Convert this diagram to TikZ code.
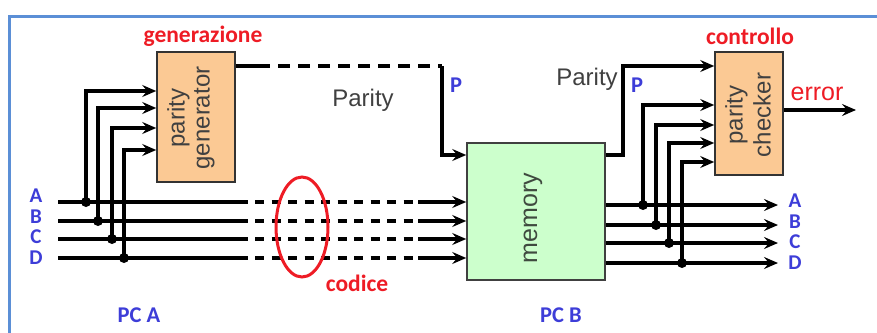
\documentclass[tikz,border=0pt]{standalone}
\usepackage{fontspec}
\setmainfont{Liberation Sans}
\newfontfamily\labfont{Carlito}
\usetikzlibrary{arrows.meta}
\definecolor{peach}{HTML}{FBC994}
\definecolor{mint}{HTML}{CCFFCC}
\definecolor{lblue}{HTML}{3D3DD8}
\definecolor{lred}{HTML}{EE1C25}
\definecolor{frameblue}{HTML}{5B8FD6}
\definecolor{txtgray}{HTML}{404040}
\definecolor{memgray}{HTML}{3F4A3F}
\tikzset{
  wire/.style={line width=3.1pt, black},
  arr/.style={wire, -{Stealth[length=14pt,width=12pt,inset=5pt]}},
  dash1/.style={wire, dash pattern=on 12pt off 8pt},
  dash2/.style={wire, dash pattern=on 9pt off 7.5pt},
  dot/.style={circle, fill=black, inner sep=0pt, minimum size=10pt},
  orbox/.style={draw=black!80, line width=1.6pt, fill=peach, inner sep=0pt},
  membox/.style={draw=black!75, line width=1.6pt, fill=mint, inner sep=0pt},
  boxtxt/.style={rotate=90, align=center, text=txtgray, font=\fontsize{24}{26}\selectfont},
  graytxt/.style={text=txtgray, font=\fontsize{24}{26}\selectfont},
  bluelab/.style={text=lblue, font=\labfont\bfseries\fontsize{22.5}{23}\selectfont, inner sep=0pt},
  letlab/.style={text=lblue, font=\labfont\bfseries\fontsize{21}{21}\selectfont, inner sep=0pt},
  redlab/.style={text=lred, font=\labfont\bfseries\fontsize{23.5}{24}\selectfont, inner sep=0pt},
}
\begin{document}
\begin{tikzpicture}[x=1pt,y=-1pt]
\useasboundingbox (0,0) rectangle (877,332);
% frame
\draw[frameblue, line width=3pt] (9,340) -- (9,16) -- (885,16);
% boxes
\node[orbox, minimum width=78pt, minimum height=130pt] (gen) at (196,117) {};
\node[boxtxt, font=\fontsize{24}{25}\selectfont] (gentxt) at (191,118) {parity\\generator};
\node[membox, minimum width=138pt, minimum height=137pt] (mem) at (536,211.5) {};
\node[boxtxt, text=memgray, font=\fontsize{25}{26}\selectfont] (memtxt) at (533,218) {memory};
\node[orbox, minimum width=68pt, minimum height=123pt] (chk) at (749,113.5) {};
\node[boxtxt, font=\fontsize{24}{28}\selectfont] (chktxt) at (748,115) {parity\\checker};
% labels
\node[redlab] (lgen) at (203,36) {generazione};
\node[redlab] (lchk) at (750,36) {controllo};
\node[text=lred, font=\fontsize{25}{26}\selectfont, inner sep=0pt] (lerr) at (817,94) {error};
\node[redlab] (lcod) at (357,283) {codice};
\node[bluelab] (pca) at (139,315) {PC A};
\node[bluelab] (pcb) at (561,315) {PC B};
\node[bluelab] (p1) at (456,85) {P};
\node[bluelab] (p2) at (637,85) {P};
\node[graytxt] (par1) at (363,100) {Parity};
\node[graytxt] (par2) at (587,79) {Parity};
% input labels
\node[letlab] (iA) at (36,196) {A};
\node[letlab] (iB) at (36,216.5) {B};
\node[letlab] (iC) at (36,237) {C};
\node[letlab] (iD) at (36,257.5) {D};
% output labels
\node[letlab] (oA) at (795,201) {A};
\node[letlab] (oB) at (795,221.5) {B};
\node[letlab] (oC) at (795,242) {C};
\node[letlab] (oD) at (795,262.5) {D};
% input lines
\foreach \n/\y/\x/\g in {A/202/86/91, B/221/98/108, C/239/112/128, D/258/124/150}{
  \coordinate (s\n) at (58,\y);
  \coordinate (e\n) at (248,\y);
  \coordinate (f\n) at (255,\y);
  \coordinate (h\n) at (418,\y);
  \coordinate (m\n) at (mem.west |- 0,\y);
  \coordinate (g\n) at (gen.west |- 0,\g);
  \node[dot] (j\n) at (\x,\y) {};
  \draw[wire] (s\n) -- (e\n);
  \draw[dash2] (f\n) -- (h\n);
  \draw[arr] (h\n) -- (m\n);
  \draw[arr] (j\n.center) |- (g\n);
}
% parity path
\coordinate (pa) at (gen.east |- 0,66);
\coordinate (pb) at (258,66);
\coordinate (pc) at (442,66);
\coordinate (pd) at (mem.west |- 0,155);
\draw[wire] (pa) -- (pb);
\draw[dash1] (pb) -- (pc);
\draw[arr] (pc) |- (pd);
% memory to checker parity
\coordinate (qa) at (mem.east |- 0,155);
\coordinate (qb) at (623,155);
\coordinate (qc) at (chk.west |- 0,66);
\draw[arr] (qa) -- (qb) |- (qc);
% outputs
\foreach \n/\y/\x/\g in {A/205/643/105, B/225/656/125, C/243/669/143, D/263/682/162}{
  \coordinate (u\n) at (mem.east |- 0,\y);
  \coordinate (v\n) at (778,\y);
  \coordinate (c\n) at (chk.west |- 0,\g);
  \node[dot] (k\n) at (\x,\y) {};
  \draw[arr] (u\n) -- (v\n);
  \draw[arr] (k\n.center) |- (c\n);
}
% error
\coordinate (ea) at (chk.east |- 0,110);
\coordinate (eb) at (856,110);
\draw[arr] (ea) -- (eb);
% ellipse
\draw[lred, line width=3pt] (302,227) ellipse [x radius=26, y radius=50];
\end{tikzpicture}
\end{document}
